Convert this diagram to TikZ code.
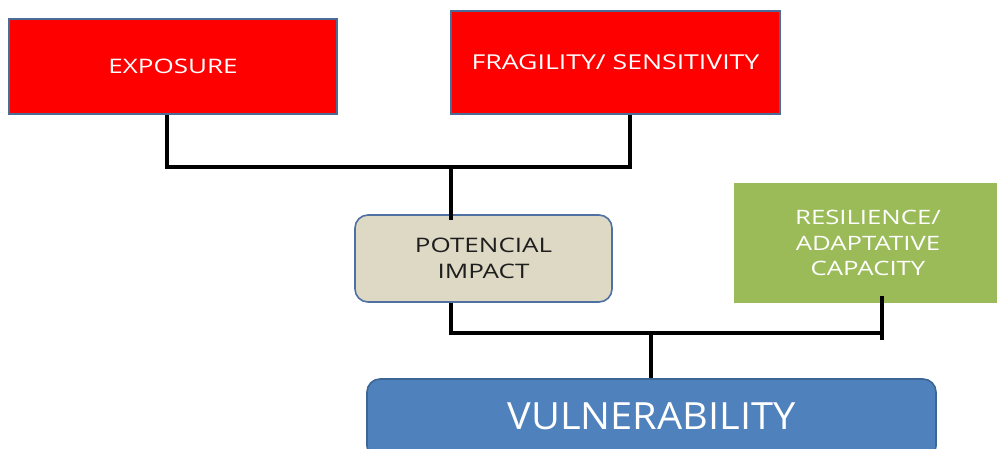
\documentclass[tikz,border=0pt]{standalone}
\usepackage{fontspec}
\setmainfont{Open Sans}[FakeStretch=1.3]
\newfontfamily\vulfont{Open Sans}[FakeStretch=1.06]
\definecolor{bordblue}{RGB}{74,108,150}
\definecolor{potfill}{RGB}{221,217,196}
\definecolor{potbord}{RGB}{79,112,163}
\definecolor{resgreen}{RGB}{155,187,89}
\definecolor{vulfill}{RGB}{79,129,189}
\definecolor{vulbord}{RGB}{61,101,150}
\definecolor{darktext}{RGB}{30,30,30}
\begin{document}
\begin{tikzpicture}[x=1pt,y=-1pt,
  box/.style={inner sep=0pt, align=center, line width=1.6pt},
  redbox/.style={box, fill=red, draw=bordblue, text=white},
  conn/.style={line width=4pt, black}]
\useasboundingbox (0,0) rectangle (997,448);
% nodes
\node[redbox, minimum width=328pt, minimum height=95pt, font=\fontsize{20}{26}\selectfont] (expo) at (173,66.5) {EXPOSURE};
\node[redbox, minimum width=329pt, minimum height=103pt, font=\fontsize{20.5}{26}\selectfont] (frag) at (615.5,62.5) {FRAGILITY/ SENSITIVITY};
\node[box, fill=potfill, draw=potbord, rounded corners=13pt, text=darktext,
      minimum width=257pt, minimum height=87pt, font=\fontsize{20}{26}\selectfont] (pot) at (483.5,258.5) {POTENCIAL\\IMPACT};
\node[box, fill=resgreen, text=white, minimum width=268pt, minimum height=120pt,
      font=\fontsize{19.8}{25.5}\selectfont] (res) at (868,243) {RESILIENCE/\\ADAPTATIVE\\CAPACITY};
\node[box, fill=vulfill, draw=vulbord, rounded corners=13pt, text=white,
      minimum width=569pt, minimum height=80pt, font=\vulfont\fontsize{37.5}{40}\selectfont] (vul) at (651.5,419) {\raisebox{5pt}{VULNERABILITY}};
% connector helper coordinates
\coordinate (ex) at (167,0);
\coordinate (fx) at (630,0);
\coordinate (j1) at (451,167);
\coordinate (j2) at (651,333);
\coordinate (rx) at (882,340);
% upper connector
\draw[conn] (expo.south -| ex) |- (j1) -| (frag.south -| fx);
\draw[conn] (j1) -- ([yshift=-6pt]pot.north -| j1);
% lower connector
\draw[conn] (pot.south -| j1) |- (j2) -- (j2 -| rx);
\path (res.south -| rx) ++(0,-8) coordinate (r1);
\draw[conn] (r1) -- (rx);
\draw[conn] (j2) -- (vul.north -| j2);
\end{tikzpicture}
\end{document}
